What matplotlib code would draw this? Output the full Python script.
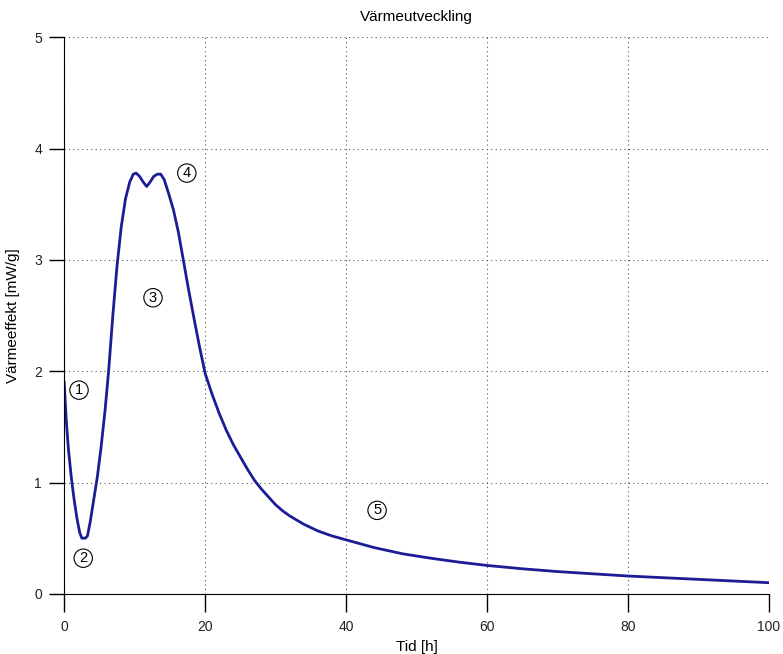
import matplotlib
matplotlib.use("Agg")
import matplotlib.pyplot as plt

plt.rcParams["font.family"] = ["Liberation Sans", "DejaVu Sans"]

# heat flow curve (time in h, power in mW/g)
tid = [0.0, 0.3, 0.6, 1.0, 1.4, 1.8, 2.2, 2.5, 3.0, 3.3, 3.7, 4.2, 4.7, 5.2,
       5.8, 6.3, 6.9, 7.5, 8.1, 8.7, 9.3, 9.8, 10.2, 10.7, 11.2, 11.7, 12.2,
       12.7, 13.2, 13.7, 14.2, 14.8, 15.5, 16.2, 16.9, 17.6, 18.4, 19.2, 20.0,
       21.0, 22.0, 23.0, 24.0, 25.0, 26.0, 27.0, 28.0, 29.0, 30.0, 31.0, 32.0,
       34.0, 36.0, 38.0, 40.0, 44.0, 48.0, 52.0, 56.0, 60.0, 65.0, 70.0, 75.0,
       80.0, 85.0, 90.0, 95.0, 100.0]
effekt = [1.9, 1.55, 1.3, 1.05, 0.85, 0.68, 0.55, 0.5, 0.5, 0.52, 0.65, 0.85,
          1.05, 1.3, 1.65, 2.0, 2.5, 2.95, 3.3, 3.55, 3.7, 3.77, 3.78, 3.75,
          3.7, 3.66, 3.7, 3.75, 3.77, 3.77, 3.72, 3.6, 3.45, 3.25, 3.0, 2.75,
          2.48, 2.22, 1.98, 1.79, 1.62, 1.47, 1.34, 1.23, 1.12, 1.02, 0.94,
          0.87, 0.8, 0.745, 0.7, 0.625, 0.565, 0.52, 0.485, 0.415, 0.36, 0.32,
          0.285, 0.255, 0.225, 0.2, 0.18, 0.16, 0.145, 0.13, 0.115, 0.1]

# circled phase markers
fas_nr = ["1", "2", "3", "4", "5"]
fas_t = [2.1, 2.7, 12.6, 17.4, 44.4]
fas_v = [1.83, 0.32, 2.66, 3.78, 0.75]

fig = plt.figure(figsize=(7.83, 6.54), dpi=100)
ax = fig.add_axes([0.082, 0.092, 0.9, 0.851])

ax.plot(tid, effekt, color="#1c1c96", lw=2.0)

for nr, t, v in zip(fas_nr, fas_t, fas_v):
    ax.text(t, v, nr, ha="center", va="center", fontsize=10.5,
            bbox=dict(boxstyle="circle,pad=0.15", fc="white", ec="black", lw=0.8))

ax.set_xlim(0, 100)
ax.set_ylim(0, 5)
ax.set_xticks([0, 20, 40, 60, 80, 100])
ax.set_yticks([0, 1, 2, 3, 4, 5])
ax.grid(True, linestyle=(0, (1, 3)), color="#555555", lw=0.8)
ax.spines["top"].set_visible(False)
ax.spines["right"].set_visible(False)
ax.tick_params(direction="out", width=1, labelsize=10, labelcolor="#222222")
ax.tick_params(axis="y", length=11, pad=5)
ax.tick_params(axis="x", length=13, pad=6)

ax.set_title("Värmeutveckling", fontsize=11, pad=12)
ax.set_xlabel("Tid [h]", fontsize=11, labelpad=4)
ax.set_ylabel("Värmeeffekt [mW/g]", fontsize=11, labelpad=10)

fig.savefig("out.png", dpi=100)
